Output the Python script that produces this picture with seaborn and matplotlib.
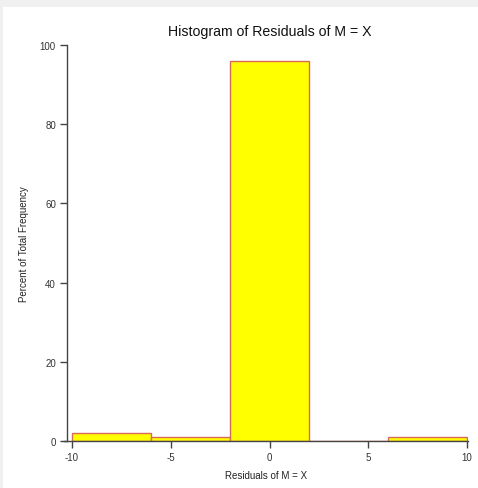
import matplotlib
matplotlib.use("Agg")
import matplotlib.pyplot as plt
import matplotlib.patches as mpatches
import numpy as np
import seaborn as sns

# Residual histogram: bin edges and percent of total frequency per bin
bin_edges = [-10, -6, -2, 2, 6, 10]
bin_centers = [-8, -4, 0, 4, 8]
percent = [2, 1, 96, 0, 1]
x_ticks = [-10, -5, 0, 5, 10]
y_ticks = [0, 20, 40, 60, 80, 100]

sns.set_style("white")
plt.rcParams["font.family"] = ["Liberation Sans", "DejaVu Sans"]

W, H = 478, 489
fig = plt.figure(figsize=(W / 100, H / 100), dpi=100, facecolor="#f0f0f0")
# white panel inside the light grey frame
fig.patches.append(mpatches.Rectangle((3 / W, 0), 1 - 3 / W, 1 - 8 / H,
                                      transform=fig.transFigure,
                                      facecolor="white", edgecolor="none", zorder=-10))

left, right, top, bottom = 64, 468, 46, 442
ax = fig.add_axes([left / W, 1 - bottom / H, (right - left) / W, (bottom - top) / H])
ax.set_facecolor("none")

sns.histplot(x=bin_centers, weights=percent, bins=bin_edges, stat="count",
             color="#ffff00", edgecolor="#d86a5a", linewidth=1.0, alpha=1.0, ax=ax)

px_per_unit = (467 - 72) / 20.0
ax.set_xlim(-10 - (72 - left) / px_per_unit, 10 + (right - 467) / px_per_unit)
ax.set_ylim(0, 100)

for s in ["top", "right"]:
    ax.spines[s].set_visible(False)
ax.spines["left"].set_position(("data", -10 - (72 - 67) / px_per_unit))
ax.spines["left"].set_bounds(0, 100)
for s in ["left", "bottom"]:
    ax.spines[s].set_color("#444444")
    ax.spines[s].set_linewidth(1.0)

ax.set_xticks(x_ticks)
ax.set_xticklabels([str(v) for v in x_ticks])
ax.set_yticks(y_ticks)
ax.set_yticklabels([str(v) for v in y_ticks])
ax.tick_params(axis="both", which="both", direction="out", length=5, width=1.0,
               color="#444444", labelsize=7, labelcolor="#333333",
               bottom=True, left=True, pad=3)

ax.set_xlabel("Residuals of M = X", fontsize=7, color="#222222", labelpad=6)
ax.set_ylabel("Percent of Total Frequency", fontsize=7, color="#222222", labelpad=8)
ax.set_title("Histogram of Residuals of M = X", fontsize=10.2, color="#111111",
             pad=7, x=0.51)

fig.savefig("out.png", dpi=100, facecolor=fig.get_facecolor())
